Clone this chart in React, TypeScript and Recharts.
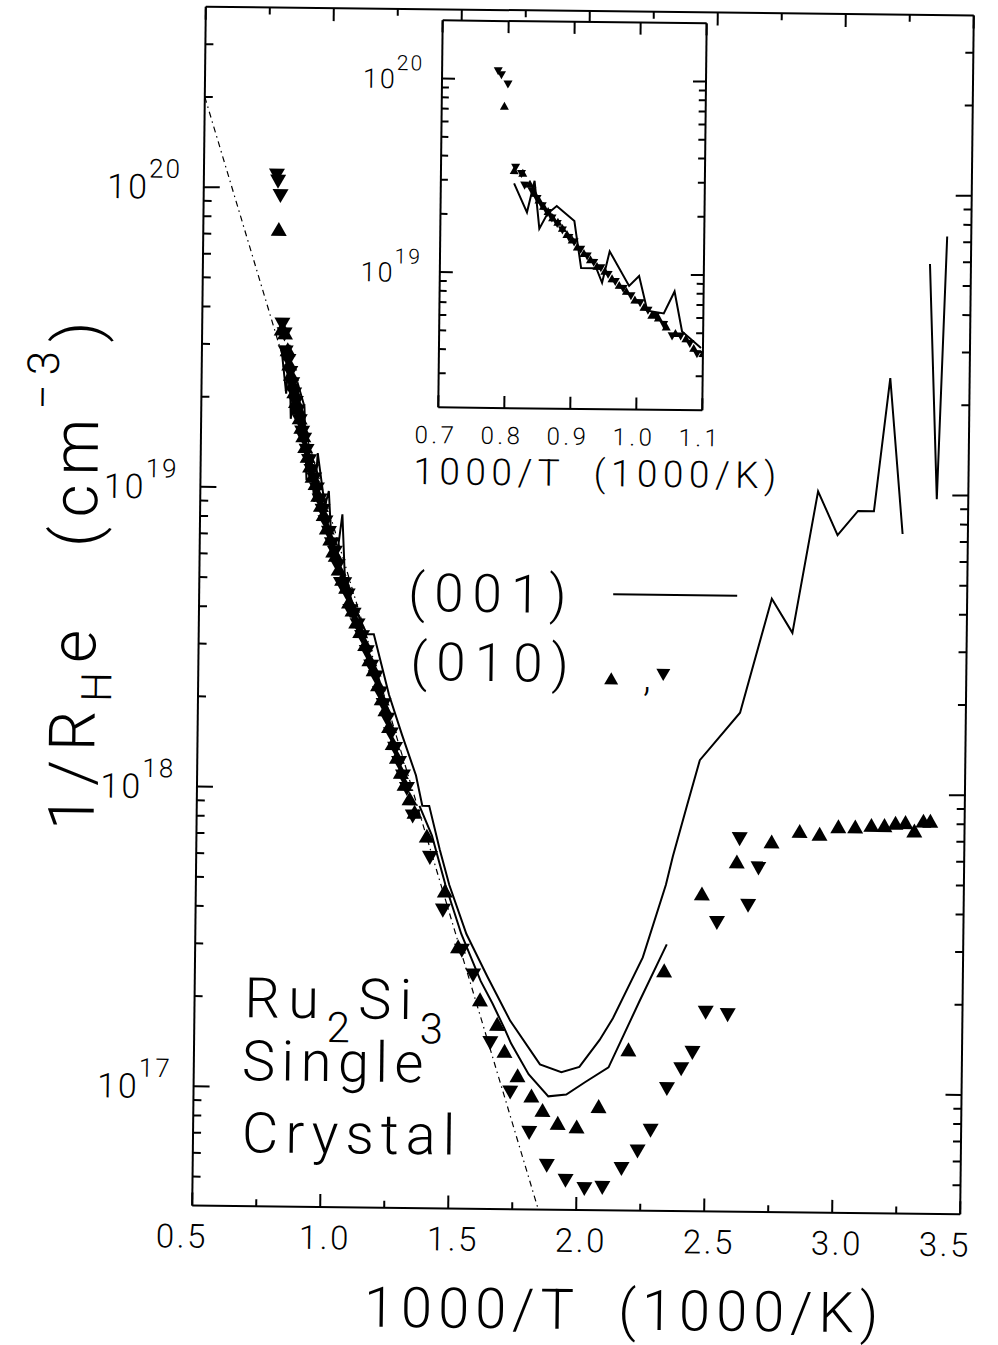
import { ComposedChart, Scatter, Line, XAxis, YAxis } from 'recharts';

// ── Data ────────────────────────────────────────────────────────────────────
// (010) sample, up triangles  [1000/T, 1/R_He]
const UP_010: [number, number][] = [
    [0.795, 7.3e19],
    [0.811, 3.4e19], [0.824, 3.3e19], [0.835, 2.9e19], [0.842, 2.6e19], [0.849, 2.4e19],
    [0.856, 2.23e19], [0.863, 2.1e19], [0.870, 1.95e19], [0.878, 1.85e19], [0.885, 1.72e19],
    [0.892, 1.6e19], [0.900, 1.5e19], [0.908, 1.38e19], [0.918, 1.28e19], [0.928, 1.19e19],
    [0.938, 1.1e19], [0.950, 1.04e19], [0.961, 9.5e18], [0.972, 8.8e18], [0.983, 8.2e18],
    [0.996, 7.4e18], [1.010, 6.8e18], [1.022, 6.2e18], [1.032, 6.0e18], [1.044, 5.4e18],
    [1.058, 5.0e18], [1.074, 4.7e18], [1.086, 4.2e18], [1.100, 3.95e18], [1.115, 3.6e18],
    [1.131, 3.35e18], [1.151, 3.03e18], [1.168, 2.7e18], [1.185, 2.5e18], [1.203, 2.23e18],
    [1.218, 2.0e18], [1.233, 1.84e18], [1.248, 1.62e18], [1.263, 1.42e18], [1.280, 1.28e18],
    [1.296, 1.14e18], [1.311, 1.04e18], [1.331, 9.3e17], [1.351, 8.4e17], [1.400, 7.0e17],
    [1.473, 4.6e17], [1.527, 3.0e17], [1.615, 2.0e17], [1.683, 1.66e17], [1.713, 1.35e17],
    [1.765, 1.12e17], [1.820, 9.6e16], [1.864, 8.6e16], [1.924, 7.8e16], [1.998, 7.6e16],
    [2.083, 8.9e16], [2.197, 1.38e17], [2.333, 2.54e17], [2.477, 4.6e17], [2.612, 5.9e17],
    [2.747, 6.9e17], [2.856, 7.5e17], [2.934, 7.35e17], [3.007, 7.8e17], [3.073, 7.8e17],
    [3.136, 7.9e17], [3.187, 7.9e17], [3.230, 8.05e17], [3.269, 8.1e17], [3.304, 7.6e17],
    [3.339, 8.2e17], [3.366, 8.2e17],
];

// (010) sample, down triangles
const DOWN_010: [number, number][] = [
    [0.785, 1.1e20], [0.790, 1.05e20], [0.800, 9.4e19],
    [0.813, 3.5e19], [0.822, 3.25e19], [0.827, 2.83e19], [0.838, 2.65e19], [0.846, 2.42e19],
    [0.854, 2.22e19], [0.862, 2.05e19], [0.869, 1.92e19], [0.877, 1.8e19], [0.885, 1.67e19],
    [0.895, 1.53e19], [0.903, 1.45e19], [0.913, 1.33e19], [0.923, 1.23e19], [0.933, 1.14e19],
    [0.944, 1.07e19], [0.955, 9.9e18], [0.966, 9.1e18], [0.978, 8.4e18], [0.990, 7.7e18],
    [1.004, 7.1e18], [1.016, 6.5e18], [1.028, 6.1e18], [1.040, 5.5e18], [1.053, 4.8e18],
    [1.066, 4.8e18], [1.080, 4.4e18], [1.091, 3.9e18], [1.104, 3.8e18], [1.120, 3.5e18],
    [1.138, 3.2e18], [1.157, 2.85e18], [1.175, 2.55e18], [1.193, 2.35e18], [1.210, 2.08e18],
    [1.225, 1.9e18], [1.240, 1.7e18], [1.255, 1.52e18], [1.272, 1.36e18], [1.288, 1.22e18],
    [1.304, 1.1e18], [1.320, 1.0e18], [1.344, 8.1e17], [1.413, 5.9e17], [1.466, 3.94e17],
    [1.542, 2.9e17], [1.587, 2.4e17], [1.657, 1.43e17], [1.737, 9.8e16], [1.813, 7.2e16],
    [1.883, 5.6e16], [1.957, 5.0e16], [2.031, 4.7e16], [2.101, 4.75e16], [2.175, 5.5e16],
    [2.237, 6.3e16], [2.287, 7.4e16], [2.349, 1.02e17], [2.404, 1.19e17], [2.447, 1.35e17],
    [2.497, 1.84e17], [2.537, 3.67e17], [2.583, 1.81e17], [2.622, 7.0e17], [2.658, 4.2e17],
    [2.697, 5.6e17],
];

// (001) sample, solid line - main sweep
const LINE_001_A: [number, number][] = [
    [0.811, 2.9e19], [0.831, 2.06e19], [0.842, 3.0e19], [0.850, 1.7e19], [0.862, 2.03e19],
    [0.876, 2.23e19], [0.903, 1.87e19], [0.906, 1.6e19], [0.914, 1.07e19], [0.937, 1.07e19],
    [0.946, 9.0e18], [0.957, 1.31e19], [0.987, 8.7e18], [1.002, 9.8e18], [1.015, 6.5e18],
    [1.040, 6.3e18], [1.056, 8.2e18], [1.068, 5.1e18], [1.097, 4.2e18], [1.157, 3.27e18],
    [1.184, 3.27e18], [1.246, 2.06e18], [1.298, 1.52e18], [1.355, 1.11e18], [1.381, 8.8e17],
    [1.408, 8.8e17], [1.451, 6.3e17], [1.490, 4.8e17], [1.559, 3.3e17], [1.642, 2.39e17],
    [1.734, 1.7e17], [1.852, 1.22e17], [1.936, 1.15e17], [2.006, 1.2e17], [2.084, 1.48e17],
    [2.135, 1.75e17], [2.249, 2.8e17], [2.336, 4.9e17], [2.362, 6.1e17], [2.416, 9.1e17],
    [2.463, 1.28e18], [2.618, 1.85e18], [2.737, 4.45e18], [2.819, 3.43e18], [2.913, 1.02e19],
    [2.991, 7.3e18], [3.070, 8.8e18], [3.132, 8.8e18], [3.190, 2.45e19], [3.245, 7.4e18],
];

// (001) sample, solid line - second sweep
const LINE_001_B: [number, number][] = [
    [1.370, 8.8e17], [1.420, 7.0e17], [1.475, 4.8e17], [1.539, 3.3e17], [1.617, 2.3e17],
    [1.664, 1.94e17], [1.712, 1.6e17], [1.738, 1.43e17], [1.808, 1.13e17], [1.886, 9.55e16],
    [1.956, 9.7e16], [2.030, 1.07e17], [2.120, 1.2e17], [2.237, 1.99e17], [2.342, 3.1e17],
];

// (001) sample, solid line - low temperature spike
const LINE_001_C: [number, number][] = [
    [3.340, 5.9e19], [3.377, 9.7e18], [3.406, 7.3e19],
];

// intrinsic fit, dotted
const FIT_LINE: [number, number][] = [
    [0.5, 2.0e20], [1.852, 4.0e16],
];

// ── Axes ────────────────────────────────────────────────────────────────────
const X_DOMAIN: [number, number] = [0.5, 3.5];
const X_TICKS = [0.5, 0.75, 1.0, 1.25, 1.5, 1.75, 2.0, 2.25, 2.5, 2.75, 3.0, 3.25, 3.5];
const Y_DOMAIN: [number, number] = [4e16, 4e20];
const INSET_X_DOMAIN: [number, number] = [0.7, 1.1];
const INSET_X_TICKS = [0.7, 0.8, 0.9, 1.0, 1.1];
const INSET_Y_DOMAIN: [number, number] = [2e18, 2e20];
const DECADES = [1e16, 1e17, 1e18, 1e19, 1e20];
const MANTISSAS = [1, 2, 3, 4, 5, 6, 7, 8, 9];

const logTicks = ([lo, hi]: [number, number]) =>
    DECADES.flatMap((d) => MANTISSAS.map((m) => m * d)).filter((v) => v > lo * 1.001 && v < hi * 0.999);

const toPts = (arr: [number, number][]) => arr.map(([x, y]) => ({ x, y }));
const inInset = (arr: [number, number][]) =>
    toPts(arr.filter(([x, y]) => x >= INSET_X_DOMAIN[0] && x <= INSET_X_DOMAIN[1] && y >= INSET_Y_DOMAIN[0] && y <= INSET_Y_DOMAIN[1]));

const FONT = "Roboto, 'Liberation Sans', Arial, sans-serif";
const INK = '#000';

const isDecade = (v: number) => {
    const l = Math.log10(v);
    return Math.abs(l - Math.round(l)) < 1e-9;
};
const isHalf = (v: number) => Math.abs(v * 2 - Math.round(v * 2)) < 1e-9;

// label nudges at the ends of the main x axis (the scan sets them inwards)
const xLabelShift = (v: number) => (v === 0.5 ? -10 : v === 3.5 ? -15 : 5);

// ── Markers ─────────────────────────────────────────────────────────────────
const Tri = ({ cx, cy, up, w, h }: { cx: number; cy: number; up: boolean; w: number; h: number }) => {
    const pts = up
        ? `${cx},${cy - h / 2} ${cx - w / 2},${cy + h / 2} ${cx + w / 2},${cy + h / 2}`
        : `${cx - w / 2},${cy - h / 2} ${cx + w / 2},${cy - h / 2} ${cx},${cy + h / 2}`;
    return <polygon points={pts} fill={INK} />;
};

// ── Ticks ───────────────────────────────────────────────────────────────────
type TickOpts = { major: number; minor: number; label?: boolean; size?: number; sup?: number; gap?: number; dy?: number; supDy?: number; ls?: number; shift?: (v: number) => number };

const yTick = (dir: 1 | -1, o: TickOpts) => (p: any) => {
    const v = p.payload.value;
    const dec = isDecade(v);
    return (
        <g>
            <line x1={p.x} y1={p.y} x2={p.x + dir * (dec ? o.major : o.minor)} y2={p.y} stroke={INK} strokeWidth={2} />
            {o.label && dec ? (
                <text x={p.x - (o.gap ?? 25)} y={p.y + (o.dy ?? 12)} textAnchor="end" fontFamily={FONT} fontWeight={300}
                    fontSize={o.size} fill={INK} letterSpacing={o.ls ?? 2}>
                    10<tspan dy={o.supDy ?? -21} fontSize={o.sup}>{Math.round(Math.log10(v))}</tspan>
                </text>
            ) : null}
        </g>
    );
};

const xTick = (dir: 1 | -1, o: TickOpts, isMajor: (v: number) => boolean) => (p: any) => {
    const v = p.payload.value;
    const maj = isMajor(v);
    return (
        <g>
            <line x1={p.x} y1={p.y} x2={p.x} y2={p.y + dir * (maj ? o.major : o.minor)} stroke={INK} strokeWidth={2} />
            {o.label && maj ? (
                <text x={p.x + (o.shift ? o.shift(v) : 0)} y={p.y + (o.dy ?? 39)} textAnchor="middle" fontFamily={FONT} fontWeight={300}
                    fontSize={o.size} fill={INK} letterSpacing={o.ls ?? 3}>
                    {v.toFixed(1)}
                </text>
            ) : null}
        </g>
    );
};

const axisLine = { stroke: INK, strokeWidth: 2 };

export default function App() {
    const mainYTicks = logTicks(Y_DOMAIN);
    const insetYTicks = logTicks(INSET_Y_DOMAIN);

    return (
        <div style={{ position: 'absolute', left: 0, top: 0, width: 998, height: 1345, background: '#fff', overflow: 'hidden' }}>
            <div style={{ position: 'absolute', left: 0, top: 0, width: 998, height: 1345, transform: 'rotate(0.65deg)', transformOrigin: '583px 610px' }}>
                {/* Main chart: plot area 199..967 x 11..1210 */}
                <div style={{ position: 'absolute', left: 0, top: 0 }}>
                    <ComposedChart width={998} height={1345} margin={{ top: 10, left: 198, right: 30, bottom: 134 }}>
                        <XAxis xAxisId="b" dataKey="x" type="number" domain={X_DOMAIN} allowDataOverflow ticks={X_TICKS} interval={0}
                            height={1} tickSize={0} tickMargin={0} tickLine={false} axisLine={axisLine}
                            tick={xTick(-1, { major: 13, minor: 7, label: true, size: 33, dy: 42, ls: 2.5, shift: xLabelShift }, isHalf)} />
                        <XAxis xAxisId="t" orientation="top" dataKey="x" type="number" domain={X_DOMAIN} allowDataOverflow ticks={X_TICKS} interval={0}
                            height={1} tickSize={0} tickMargin={0} tickLine={false} axisLine={axisLine}
                            tick={xTick(1, { major: 13, minor: 7 }, isHalf)} />
                        <YAxis yAxisId="l" dataKey="y" type="number" scale="log" domain={Y_DOMAIN} allowDataOverflow ticks={mainYTicks} interval={0}
                            width={1} tickSize={0} tickMargin={0} tickLine={false} axisLine={axisLine}
                            tick={yTick(1, { major: 16, minor: 8, label: true, size: 34, sup: 26, gap: 22, dy: 12, supDy: -21 })} />
                        <YAxis yAxisId="r" orientation="right" dataKey="y" type="number" scale="log" domain={Y_DOMAIN} allowDataOverflow ticks={mainYTicks} interval={0}
                            width={1} tickSize={0} tickMargin={0} tickLine={false} axisLine={axisLine}
                            tick={yTick(-1, { major: 16, minor: 8 })} />

                        <Line xAxisId="b" yAxisId="l" data={toPts(FIT_LINE)} dataKey="y" type="linear" stroke={INK} strokeWidth={1.2}
                            strokeDasharray="6 4 1.5 4" dot={false} activeDot={false} isAnimationActive={false} />
                        <Line xAxisId="b" yAxisId="l" data={toPts(LINE_001_A)} dataKey="y" type="linear" stroke={INK} strokeWidth={2}
                            dot={false} activeDot={false} isAnimationActive={false} />
                        <Line xAxisId="b" yAxisId="l" data={toPts(LINE_001_B)} dataKey="y" type="linear" stroke={INK} strokeWidth={2}
                            dot={false} activeDot={false} isAnimationActive={false} />
                        <Line xAxisId="b" yAxisId="l" data={toPts(LINE_001_C)} dataKey="y" type="linear" stroke={INK} strokeWidth={2}
                            dot={false} activeDot={false} isAnimationActive={false} />
                        <Scatter xAxisId="b" yAxisId="l" data={toPts(UP_010)} dataKey="y" isAnimationActive={false}
                            shape={(p: any) => <Tri cx={p.cx} cy={p.cy} up w={16} h={14} />} />
                        <Scatter xAxisId="b" yAxisId="l" data={toPts(DOWN_010)} dataKey="y" isAnimationActive={false}
                            shape={(p: any) => <Tri cx={p.cx} cy={p.cy} up={false} w={16} h={14} />} />
                    </ComposedChart>
                </div>

                {/* Inset: plot area 436..700 x 22..409 */}
                <div style={{ position: 'absolute', left: 436, top: 22, width: 264, height: 387, background: '#fff' }} />
                <div style={{ position: 'absolute', left: 356, top: 0 }}>
                    <ComposedChart width={360} height={500} margin={{ top: 21, left: 79, right: 15, bottom: 90 }}>
                        <XAxis xAxisId="b" dataKey="x" type="number" domain={INSET_X_DOMAIN} allowDataOverflow ticks={INSET_X_TICKS} interval={0}
                            height={1} tickSize={0} tickMargin={0} tickLine={false} axisLine={axisLine}
                            tick={xTick(-1, { major: 12, minor: 12, label: true, size: 24, dy: 36, ls: 3.5, shift: () => -2 }, () => true)} />
                        <XAxis xAxisId="t" orientation="top" dataKey="x" type="number" domain={INSET_X_DOMAIN} allowDataOverflow ticks={INSET_X_TICKS} interval={0}
                            height={1} tickSize={0} tickMargin={0} tickLine={false} axisLine={axisLine}
                            tick={xTick(1, { major: 12, minor: 12 }, () => true)} />
                        <YAxis yAxisId="l" dataKey="y" type="number" scale="log" domain={INSET_Y_DOMAIN} allowDataOverflow ticks={insetYTicks} interval={0}
                            width={1} tickSize={0} tickMargin={0} tickLine={false} axisLine={axisLine}
                            tick={yTick(1, { major: 13, minor: 7, label: true, size: 27, sup: 21, gap: 18, dy: 10, supDy: -18 })} />
                        <YAxis yAxisId="r" orientation="right" dataKey="y" type="number" scale="log" domain={INSET_Y_DOMAIN} allowDataOverflow ticks={insetYTicks} interval={0}
                            width={1} tickSize={0} tickMargin={0} tickLine={false} axisLine={axisLine}
                            tick={yTick(-1, { major: 13, minor: 7 })} />

                        <Line xAxisId="b" yAxisId="l" data={inInset(LINE_001_A)} dataKey="y" type="linear" stroke={INK} strokeWidth={2}
                            dot={false} activeDot={false} isAnimationActive={false} />
                        <Scatter xAxisId="b" yAxisId="l" data={inInset(UP_010)} dataKey="y" isAnimationActive={false}
                            shape={(p: any) => <Tri cx={p.cx} cy={p.cy} up w={9} h={8} />} />
                        <Scatter xAxisId="b" yAxisId="l" data={inInset(DOWN_010)} dataKey="y" isAnimationActive={false}
                            shape={(p: any) => <Tri cx={p.cx} cy={p.cy} up={false} w={9} h={8} />} />
                    </ComposedChart>
                </div>

                {/* Titles, legend, annotation */}
                <svg width={998} height={1345} style={{ position: 'absolute', left: 0, top: 0, pointerEvents: 'none' }}
                    fontFamily={FONT} fontWeight={300} fill={INK}>
                    <text x={632} y={1329} textAnchor="middle" fontSize={56} letterSpacing={6} style={{ whiteSpace: 'pre' }}>
                        1000/T  (1000/K)
                    </text>
                    <text x={596} y={486} textAnchor="middle" fontSize={37} letterSpacing={5.5} style={{ whiteSpace: 'pre' }}>
                        1000/T  (1000/K)
                    </text>
                    <text transform="rotate(-90 96 836)" x={96} y={836} fontSize={64} letterSpacing={9} style={{ whiteSpace: 'pre' }}>
                        1/R<tspan dy={16} fontSize={42}>H</tspan><tspan dy={-16}>e   (cm</tspan>
                        <tspan dy={-40} fontSize={44}>−3</tspan><tspan dy={40}>)</tspan>
                    </text>

                    <text x={408} y={613} fontSize={53} letterSpacing={9}>(001)</text>
                    <text x={411} y={682} fontSize={53} letterSpacing={9}>(010)</text>
                    <line x1={613} y1={594} x2={737} y2={594} stroke={INK} strokeWidth={2} />
                    <Tri cx={612} cy={678} up w={14} h={12} />
                    <text x={644} y={690} fontSize={40}>,</text>
                    <Tri cx={664} cy={674} up={false} w={14} h={12} />

                    <text x={249} y={1021} fontSize={56} letterSpacing={8}>
                        Ru<tspan dy={24} fontSize={42}>2</tspan><tspan dy={-24}>Si</tspan><tspan dy={24} fontSize={42}>3</tspan>
                    </text>
                    <text x={247} y={1084} fontSize={56} letterSpacing={6.5}>Single</text>
                    <text x={248} y={1156} fontSize={56} letterSpacing={7}>Crystal</text>
                </svg>
            </div>
        </div>
    );
}
